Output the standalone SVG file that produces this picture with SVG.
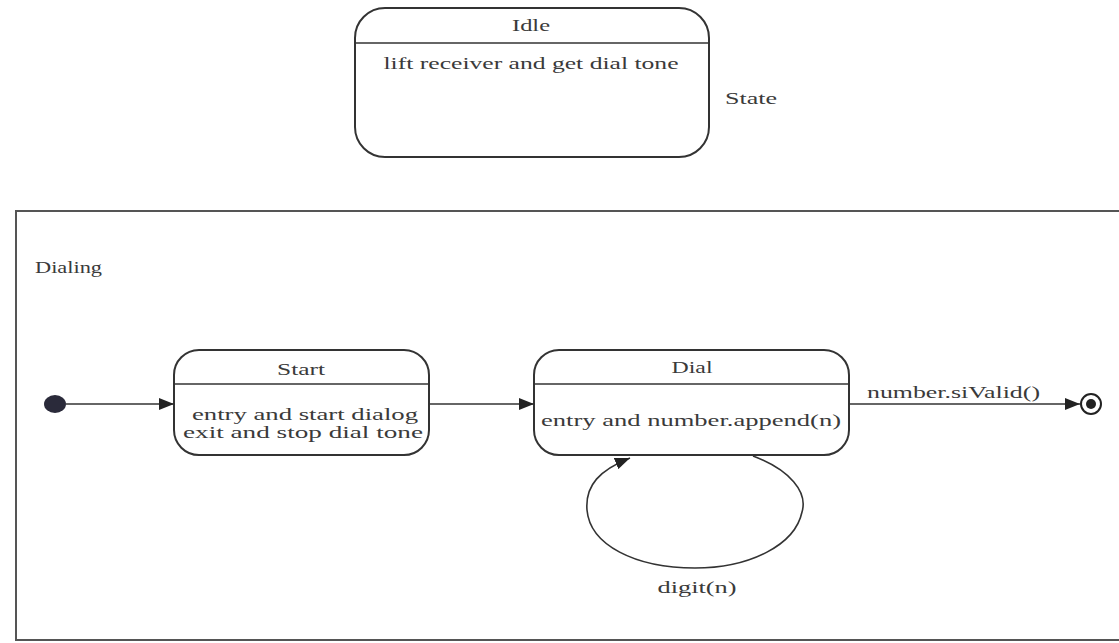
<svg xmlns="http://www.w3.org/2000/svg" width="1119" height="643" viewBox="0 0 1119 643">
<defs>
<style>
.box{fill:#fff;stroke:#333;stroke-width:2}
.div{stroke:#333;stroke-width:1.6}
.t{font-family:"Liberation Serif","Times New Roman",serif;font-size:16px;fill:#3a3a3a}
.c{text-anchor:middle}
.edge{fill:none;stroke:#333;stroke-width:1.6}
.frame{fill:none;stroke:#555;stroke-width:2}
</style>
<marker id="arr" markerWidth="16" markerHeight="12" refX="15" refY="6" orient="auto" markerUnits="userSpaceOnUse">
<path d="M0,0 L15,6 L0,12 Z" fill="#222"/>
</marker>
</defs>
<rect width="1119" height="643" fill="#fff"/>

<g id="idle">
<rect class="box" x="355" y="8" width="354" height="149" rx="30" ry="30"/>
<line class="div" x1="355" y1="43" x2="709" y2="43"/>
<text class="t c" x="531" y="31" textLength="38" lengthAdjust="spacingAndGlyphs">Idle</text>
<text class="t c" x="531" y="69" textLength="295" lengthAdjust="spacingAndGlyphs">lift receiver and get dial tone</text>
</g>
<text id="state-label" class="t" x="725" y="104" textLength="52" lengthAdjust="spacingAndGlyphs">State</text>

<g id="dialing">
<path class="frame" d="M1119,211 H16 V640 H1119"/>
<text class="t" x="35" y="273" textLength="67" lengthAdjust="spacingAndGlyphs">Dialing</text>
</g>

<g id="initial">
<ellipse cx="55" cy="404" rx="11" ry="9" fill="#2a2a3a"/>
</g>

<g id="start">
<rect class="box" x="174" y="350" width="255" height="105" rx="25" ry="25"/>
<line class="div" x1="174" y1="384" x2="429" y2="384"/>
<text class="t c" x="301" y="375" textLength="48" lengthAdjust="spacingAndGlyphs">Start</text>
<text class="t c" x="305" y="420" textLength="226" lengthAdjust="spacingAndGlyphs">entry and start dialog</text>
<text class="t c" x="303" y="438" textLength="240" lengthAdjust="spacingAndGlyphs">exit and stop dial tone</text>
</g>

<g id="dial">
<rect class="box" x="534" y="350" width="315" height="105" rx="25" ry="25"/>
<line class="div" x1="534" y1="384" x2="849" y2="384"/>
<text class="t c" x="692" y="373" textLength="41" lengthAdjust="spacingAndGlyphs">Dial</text>
<text class="t c" x="691" y="426" textLength="300" lengthAdjust="spacingAndGlyphs">entry and number.append(n)</text>
</g>

<g id="final">
<circle cx="1091" cy="404" r="10" fill="#fff" stroke="#222" stroke-width="2"/>
<circle cx="1091" cy="404" r="5" fill="#222"/>
</g>

<g id="connectors">
<line class="edge" x1="66" y1="404" x2="174" y2="404" marker-end="url(#arr)"/>
<line class="edge" x1="429" y1="404" x2="534" y2="404" marker-end="url(#arr)"/>
<line class="edge" x1="849" y1="404" x2="1080" y2="404" marker-end="url(#arr)"/>
<text class="t" x="867" y="398" textLength="173" lengthAdjust="spacingAndGlyphs">number.siValid()</text>
<path class="edge" d="M753,456 C790,470 808,492 802,512 C795,545 750,568 695,568 C635,568 590,545 587,510 C585,485 600,470 630,458" marker-end="url(#arr)"/>
<text class="t c" x="697" y="593" textLength="79" lengthAdjust="spacingAndGlyphs">digit(n)</text>
</g>
</svg>
